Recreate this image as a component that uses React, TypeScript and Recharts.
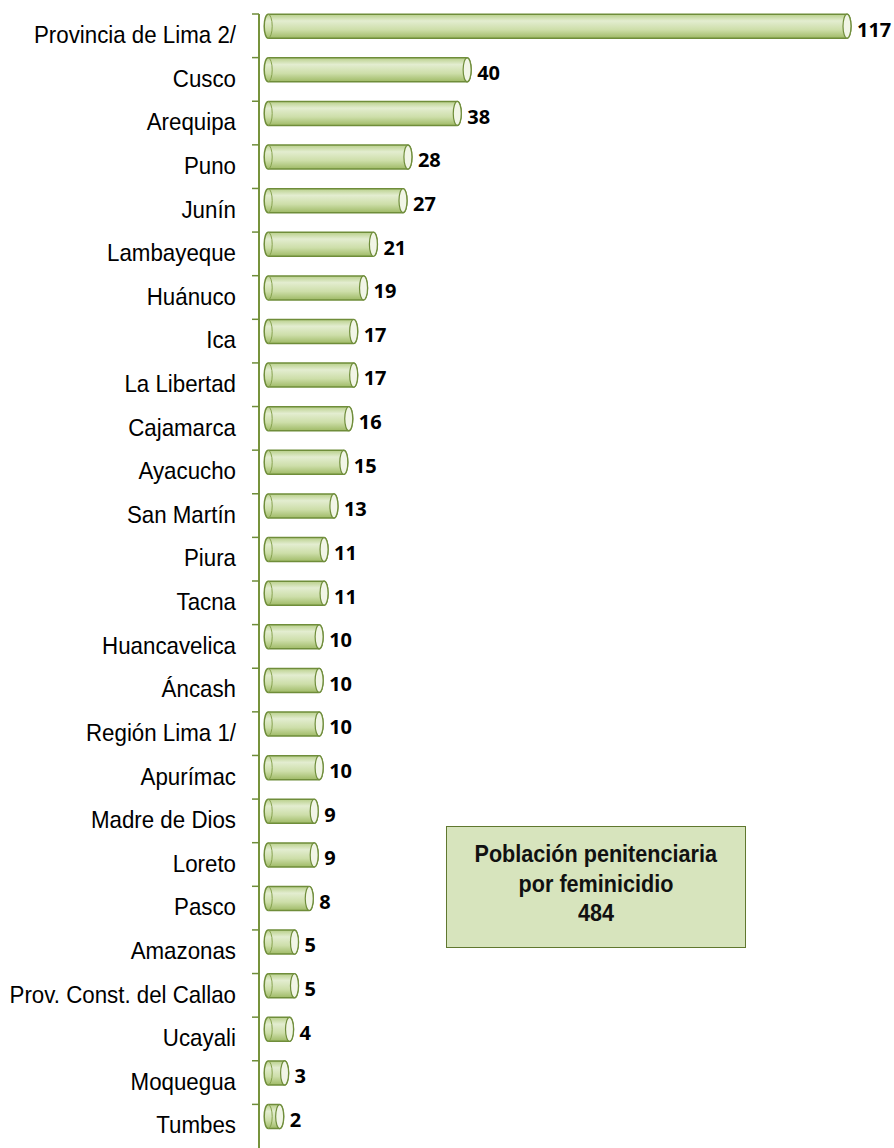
import React from "react";
import { BarChart, Bar, XAxis, YAxis, LabelList } from "recharts";

const regions = [
  "Provincia de Lima 2/", "Cusco", "Arequipa", "Puno", "Junín", "Lambayeque", "Huánuco", "Ica",
  "La Libertad", "Cajamarca", "Ayacucho", "San Martín", "Piura", "Tacna", "Huancavelica", "Áncash",
  "Región Lima 1/", "Apurímac", "Madre de Dios", "Loreto", "Pasco", "Amazonas",
  "Prov. Const. del Callao", "Ucayali", "Moquegua", "Tumbes",
];
const values = [117, 40, 38, 28, 27, 21, 19, 17, 17, 16, 15, 13, 11, 11, 10, 10, 10, 10, 9, 9, 8, 5, 5, 4, 3, 2];
const boxLines = ["Población penitenciaria", "por feminicidio", "484"];

const data = regions.map((name, i) => ({ name, value: values[i] }));

const W = 894;
const H = 1148;
const TOP = 14;
const BAND = (H - TOP) / regions.length;
const BAR_SIZE = 24;
const BAR_SHIFT = (BAND - BAR_SIZE) / 2;
const LEFT_EXT = 9.6;
const SANS = "'Liberation Sans', Arial, sans-serif";

const Cylinder = (props: any) => {
  const { x, y, width, height } = props;
  const rx = 4;
  const top = y - BAR_SHIFT;
  const left = x - LEFT_EXT;
  const right = x + width;
  const h = height;
  const ry = h / 2;
  const body = `M${left + rx},${top} L${right - rx},${top} A${rx},${ry} 0 0 1 ${right - rx},${top + h} L${left + rx},${top + h} A${rx},${ry} 0 0 1 ${left + rx},${top} Z`;
  const inner = `M${left + rx},${top} A${rx},${ry} 0 0 1 ${left + rx},${top + h}`;
  return (
    <g>
      <path d={body} fill="url(#cylGrad)" stroke="#6f8d3a" strokeWidth={1.5} />
      <path d={inner} fill="none" stroke="#86a24e" strokeWidth={1} />
      <ellipse cx={right - rx} cy={top + ry} rx={rx} ry={ry} fill="#f1f5e6" stroke="#6f8d3a" strokeWidth={1.2} />
    </g>
  );
};

const CatTick = (props: any) => {
  const { x, y, payload } = props;
  return (
    <g>
      <line x1={x + 16} x2={x + 23} y1={y - BAND / 2} y2={y - BAND / 2} stroke="#6f8d3a" strokeWidth={1.5} />
      <text
        transform={`translate(${x},${y - 1}) scale(0.93,1)`}
        x={0}
        y={0}
        textAnchor="end"
        dominantBaseline="central"
        fontSize={24}
        fontFamily={SANS}
        fill="#000"
      >
        {payload.value}
      </text>
    </g>
  );
};

const ValueLabel = (p: any) => (
  <text
    x={p.x + p.width + 6}
    y={p.y + p.height / 2 - 7}
    dominantBaseline="central"
    fontSize={20}
    fontWeight={700}
    fontFamily="'Open Sans', sans-serif"
    fill="#000"
  >
    {p.value}
  </text>
);

export default function App() {
  return (
    <div style={{ position: "absolute", left: 0, top: 0, width: W, height: H, background: "#fff" }}>
      <BarChart
        width={W}
        height={H}
        data={data}
        layout="vertical"
        margin={{ top: TOP, right: 43, bottom: 0, left: 0 }}
        barSize={BAR_SIZE}
      >
        <defs>
          <linearGradient id="cylGrad" x1="0" y1="0" x2="0" y2="1">
            <stop offset="0%" stopColor="#b8cf8a" />
            <stop offset="28%" stopColor="#e3edd0" />
            <stop offset="65%" stopColor="#cddea9" />
            <stop offset="100%" stopColor="#9fba66" />
          </linearGradient>
        </defs>
        <XAxis type="number" hide domain={[-3, 117]} />
        <YAxis
          type="category"
          dataKey="name"
          width={259}
          interval={0}
          tickSize={7}
          tickMargin={16}
          tickLine={false}
          axisLine={{ stroke: "#77933c", strokeWidth: 2 }}
          tick={<CatTick />}
        />
        <Bar dataKey="value" shape={<Cylinder />} isAnimationActive={false}>
          <LabelList dataKey="value" content={<ValueLabel />} />
        </Bar>
      </BarChart>
      <div
        style={{
          position: "absolute",
          left: 446,
          top: 826,
          width: 300,
          height: 122,
          boxSizing: "border-box",
          background: "#d7e4bd",
          border: "1.5px solid #60772f",
          textAlign: "center",
          fontFamily: SANS,
          fontWeight: 700,
          fontSize: 24,
          lineHeight: "29.5px",
          paddingTop: 12,
          color: "#111",
        }}
      >
        {boxLines.map((l) => (
          <div key={l}>
            <span style={{ display: "inline-block", transform: "scaleX(0.9)", whiteSpace: "nowrap" }}>{l}</span>
          </div>
        ))}
      </div>
    </div>
  );
}
